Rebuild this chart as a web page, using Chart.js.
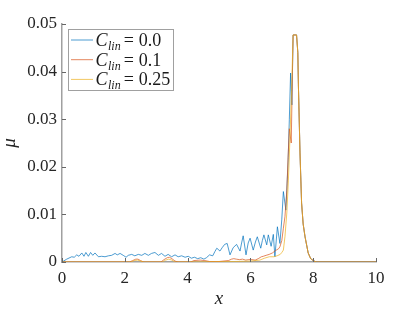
<!DOCTYPE html>
<html>
<head>
<meta charset="utf-8">
<script src="https://cdn.jsdelivr.net/npm/chart.js@4.4.0/dist/chart.umd.min.js"></script>
<style>
  html, body { margin: 0; padding: 0; background: #fff; }
  #wrap { width: 415px; height: 312px; }
</style>
</head>
<body>
<div id="wrap"><canvas id="line-chart" width="415" height="312"></canvas></div>
<script>
// values
var blueX = [0, 0.15, 0.31, 0.39, 0.47, 0.54, 0.63, 0.7, 0.76, 0.84, 0.91, 0.98, 1.05, 1.16, 1.26, 1.37, 1.48, 1.58, 1.69, 1.76, 1.85, 1.95,
    2.04, 2.11, 2.22, 2.32, 2.43, 2.54, 2.64, 2.75, 2.85, 2.96, 3.07, 3.17, 3.28, 3.38, 3.49, 3.6, 3.7, 3.81, 3.92,
    4.02, 4.12, 4.22, 4.32, 4.42, 4.52, 4.6, 4.7, 4.8, 4.87, 4.93, 5.03, 5.1, 5.18, 5.26, 5.35, 5.45, 5.56, 5.67, 5.72, 5.77, 5.86, 5.93, 5.99,
    6.09, 6.16, 6.22, 6.33, 6.38, 6.43, 6.52, 6.57, 6.66, 6.73, 6.78, 6.86, 6.94, 7.0, 7.05, 7.13, 7.2, 7.24, 7.28, 7.32, 7.36, 7.47,
    7.51, 7.53, 7.58, 7.63, 7.68, 7.74, 7.84, 7.92, 8.0, 8.1, 10];
var blueY = [0, 0.0006, 0.0011, 0.0010, 0.0015, 0.0012, 0.0019, 0.0012, 0.0020, 0.0012, 0.0020, 0.0014, 0.0019, 0.0011, 0.0012, 0.0011, 0.0013, 0.0014, 0.0018, 0.0015, 0.0018, 0.0014,
    0.0010, 0.0014, 0.0016, 0.0013, 0.0016, 0.0014, 0.0018, 0.0014, 0.0018, 0.0020, 0.0014, 0.0018, 0.0012, 0.0016, 0.0011, 0.0015, 0.0011, 0.0013, 0.0010,
    0.0012, 0.0008, 0.0010, 0.0007, 0.0009, 0.0006, 0.0009, 0.0015, 0.0013, 0.0022, 0.0029, 0.0023, 0.0030, 0.0037, 0.0039, 0.0015, 0.0030, 0.0037, 0.0023, 0.0040, 0.0055, 0.0015, 0.0040, 0.0050,
    0.0025, 0.0042, 0.0053, 0.0029, 0.0045, 0.0057, 0.0036, 0.0057, 0.0033, 0.0058, 0.0011, 0.0074, 0.0039, 0.0090, 0.0148, 0.0109, 0.0210, 0.0300, 0.0397, 0.0330, 0.0477, 0.0477,
    0.0440, 0.0368, 0.0229, 0.0124, 0.0080, 0.0053, 0.0019, 0.0007, 0.0003, 0, 0];

var orangeX = [0, 2.15, 2.25, 2.35, 2.42, 2.5, 2.6, 3.15, 3.25, 3.35, 3.42, 3.5, 3.6, 3.7, 4.1, 4.2, 4.4, 4.55, 4.7,
    5.0, 5.3, 5.4, 5.47, 5.55, 5.65, 5.75, 5.85, 5.95, 6.05, 6.15, 6.25, 6.35, 6.41, 6.5, 6.6, 6.7, 6.8, 6.9, 6.94,
    7.0, 7.05, 7.1, 7.16, 7.2, 7.24, 7.3, 7.36, 7.47, 7.51, 7.53, 7.58, 7.63, 7.68, 7.74, 7.84, 7.92, 8.0, 8.1, 10];
var orangeY = [0, 0, 0.0003, 0.0006, 0.0006, 0.0003, 0, 0, 0.0005, 0.0009, 0.0010, 0.0007, 0.0002, 0, 0, 0.0003, 0.0004, 0.0003, 0.0001,
    0.0001, 0.0003, 0.0006, 0.0007, 0.0006, 0.0005, 0.0006, 0.0004, 0.0005, 0.0005, 0.0004, 0.0007, 0.0011, 0.0012, 0.0014, 0.0016, 0.0019, 0.0024, 0.0028, 0.0032,
    0.0045, 0.0071, 0.0095, 0.0150, 0.0220, 0.0280, 0.0250, 0.0477, 0.0477, 0.0440, 0.0368, 0.0229, 0.0124, 0.0080, 0.0053, 0.0019, 0.0007, 0.0003, 0, 0];

var yellowX = [0, 2.2, 2.3, 2.4, 2.5, 2.6, 3.2, 3.3, 3.4, 3.5, 3.6, 5.5, 6.0, 6.3, 6.45, 6.6, 6.75, 6.85, 6.95,
    7.0, 7.05, 7.1, 7.16, 7.21, 7.26, 7.31, 7.36, 7.47, 7.51, 7.53, 7.58, 7.63, 7.68, 7.74, 7.84, 7.92, 8.0, 8.1, 10];
var yellowY = [0, 0, 0.0003, 0.0004, 0.0002, 0, 0, 0.0004, 0.0006, 0.0004, 0, 0.0001, 0.0002, 0.0004, 0.0008, 0.0011, 0.0011, 0.0013, 0.0016,
    0.0020, 0.0025, 0.0053, 0.0103, 0.0172, 0.0260, 0.0360, 0.0477, 0.0477, 0.0440, 0.0368, 0.0229, 0.0124, 0.0080, 0.0053, 0.0019, 0.0007, 0.0003, 0, 0];

var legendValues = ['0.0', '0.1', '0.25'];
var lineColors = ['rgba(0,114,189,0.7)', 'rgba(217,83,25,0.7)', 'rgba(237,177,32,0.7)'];

function pairs(xs, ys) {
    let out = [];
    for (let i = 0; i < xs.length; i++) {
        out.push({x: xs[i], y: ys[i]});
    }
    return out;
}

var serif = "'Liberation Serif', serif";

// small inward tick marks, like the original
var innerTicks = {
    id: 'innerTicks',
    afterDraw: function(chart) {
        var ctx = chart.ctx;
        var xs = chart.scales.x, ys = chart.scales.y;
        var area = chart.chartArea;
        ctx.save();
        ctx.strokeStyle = '#666';
        ctx.lineWidth = 1;
        ctx.beginPath();
        xs.ticks.forEach(function(t) {
            var px = Math.round(xs.getPixelForValue(t.value)) + 0.5;
            ctx.moveTo(px, area.bottom);
            ctx.lineTo(px, area.bottom - 4);
        });
        ys.ticks.forEach(function(t) {
            var py = Math.round(ys.getPixelForValue(t.value)) + 0.5;
            ctx.moveTo(area.left, py);
            ctx.lineTo(area.left + 4, py);
        });
        ctx.stroke();
        ctx.restore();
    }
};

// legend with subscripts (C_lin), drawn by hand
var legendBox = {
    id: 'legendBox',
    afterDraw: function(chart) {
        var ctx = chart.ctx;
        var area = chart.chartArea;
        var bx = area.left + 6.5, by = area.top + 5.5;
        ctx.save();
        ctx.fillStyle = '#fff';
        ctx.strokeStyle = '#a0a0a0';
        ctx.lineWidth = 1;
        ctx.fillRect(bx, by, 105, 61);
        ctx.strokeRect(bx, by, 105, 61);
        for (let i = 0; i < legendValues.length; i++) {
            var ry = area.top + 16 + i * 19.7;
            ctx.strokeStyle = lineColors[i];
            ctx.beginPath();
            ctx.moveTo(bx + 2.5, ry);
            ctx.lineTo(bx + 24.5, ry);
            ctx.stroke();
            ctx.fillStyle = '#1a1a1a';
            ctx.textBaseline = 'alphabetic';
            var tx = bx + 27;
            ctx.font = 'italic 18px ' + serif;
            ctx.fillText('C', tx, ry + 6);
            tx += ctx.measureText('C').width + 0.5;
            ctx.font = 'italic 12px ' + serif;
            ctx.fillText('lin', tx, ry + 10);
            tx += ctx.measureText('lin').width + 3;
            ctx.font = '18px ' + serif;
            ctx.fillText('=', tx, ry + 6);
            tx += ctx.measureText('=').width + 5;
            ctx.fillText(legendValues[i], tx, ry + 6);
        }
        ctx.restore();
    }
};

new Chart(document.getElementById('line-chart'), {
    type: 'line',
    data: {
        datasets: [
            { data: pairs(blueX, blueY), borderColor: lineColors[0], order: 3 },
            { data: pairs(orangeX, orangeY), borderColor: lineColors[1], order: 2 },
            { data: pairs(yellowX, yellowY), borderColor: lineColors[2], order: 1 }
        ]
    },
    options: {
        responsive: false,
        animation: false,
        devicePixelRatio: 1,
        elements: {
            line: { borderWidth: 1, tension: 0, fill: false },
            point: { radius: 0 }
        },
        layout: { padding: { top: 24, right: 39, bottom: 0, left: 0 } },
        plugins: { legend: { display: false }, tooltip: { enabled: false } },
        scales: {
            x: {
                type: 'linear',
                min: 0, max: 10,
                grid: { display: true, drawOnChartArea: false, drawTicks: false },
                border: { display: true, color: '#a0a0a0', width: 1.5 },
                ticks: { stepSize: 2, padding: 6, color: '#262626', font: { family: serif, size: 17 } },
                title: { display: true, text: 'x', color: '#262626', padding: { top: 0, bottom: 3.5 },
                         font: { family: serif, size: 19, style: 'italic', lineHeight: 1 } },
                afterFit: function(scale) { scale.height = 50; }
            },
            y: {
                type: 'linear',
                min: 0, max: 0.05,
                grid: { display: true, drawOnChartArea: false, drawTicks: false },
                border: { display: true, color: '#a0a0a0', width: 1.5 },
                ticks: { stepSize: 0.01, padding: 5, color: '#262626', font: { family: serif, size: 17 },
                         callback: function(v) { return v === 0 ? '0' : v.toFixed(2); } },
                title: { display: true, text: 'μ', color: '#262626', padding: { top: 0.5, bottom: 0 },
                         font: { family: serif, size: 19, style: 'italic', lineHeight: 1 } },
                afterFit: function(scale) { scale.width = 62; }
            }
        }
    },
    plugins: [innerTicks, legendBox]
});
</script>
</body>
</html>
